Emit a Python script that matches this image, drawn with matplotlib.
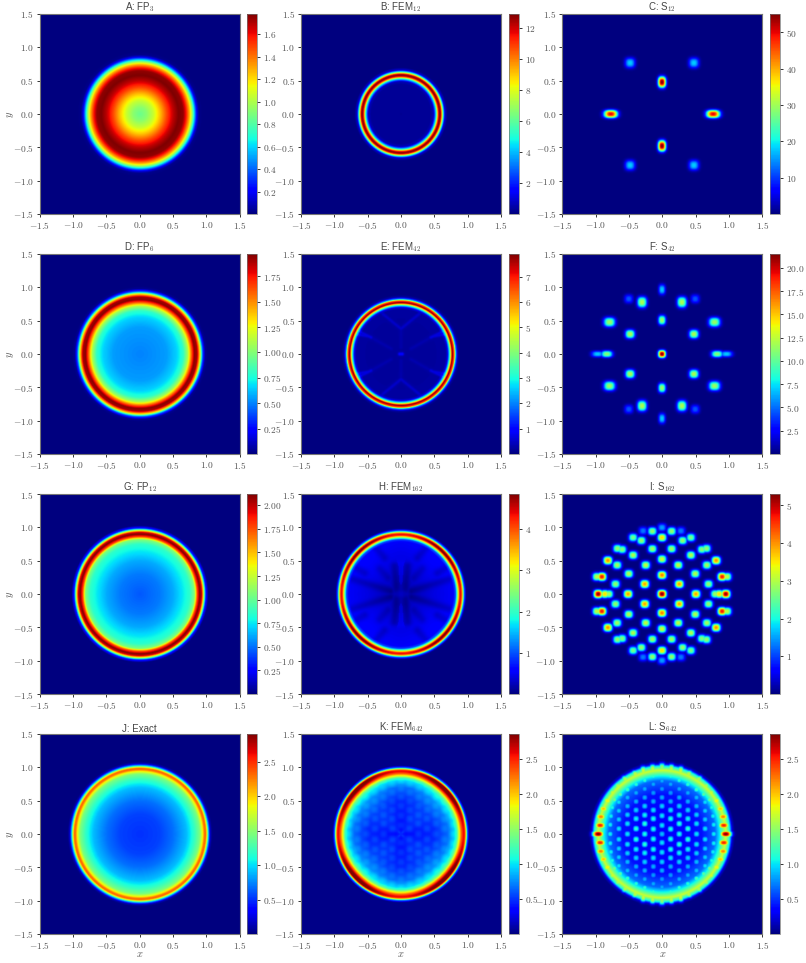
import numpy as np
import matplotlib
matplotlib.use('Agg')
import matplotlib.pyplot as plt

plt.rcParams['mathtext.fontset'] = 'cm'
plt.rcParams['font.family'] = ['Liberation Sans', 'DejaVu Sans']

TITLES = ['A: FP$_3$', 'B: FEM$_{12}$', 'C: S$_{12}$',
          'D: FP$_6$', 'E: FEM$_{42}$', 'F: S$_{42}$',
          'G: FP$_{12}$', 'H: FEM$_{162}$', 'I: S$_{162}$',
          'J: Exact', 'K: FEM$_{642}$', 'L: S$_{642}$']
VMAX = [1.78, 12.9, 55, 1.97, 7.9, 21.5, 2.12, 4.85, 5.3, 2.9, 2.85, 2.85]
CBAR_TICKS = [[0.2, 0.4, 0.6, 0.8, 1.0, 1.2, 1.4, 1.6],
              [2, 4, 6, 8, 10, 12],
              [10, 20, 30, 40, 50],
              [0.25, 0.5, 0.75, 1.0, 1.25, 1.5, 1.75],
              [1, 2, 3, 4, 5, 6, 7],
              [2.5, 5.0, 7.5, 10.0, 12.5, 15.0, 17.5, 20.0],
              [0.25, 0.5, 0.75, 1.0, 1.25, 1.5, 1.75, 2.0],
              [1, 2, 3, 4],
              [1, 2, 3, 4, 5],
              [0.5, 1.0, 1.5, 2.0, 2.5],
              [0.5, 1.0, 1.5, 2.0, 2.5],
              [0.5, 1.0, 1.5, 2.0, 2.5]]
CBAR_FMT = ['%.1f', '%d', '%d', '%.2f', '%d', '%.1f', '%.2f', '%d', '%d', '%.1f', '%.1f', '%.1f']
AXIS_TICKS = [-1.5, -1.0, -0.5, 0.0, 0.5, 1.0, 1.5]

# radial profiles (radius, value)
A_R = [0, 0.1, 0.2, 0.3, 0.4, 0.5, 0.58, 0.65, 0.7, 0.75, 0.79, 0.83, 0.86, 0.89, 0.95]
A_V = [0.85, 0.92, 1.05, 1.25, 1.48, 1.68, 1.78, 1.75, 1.55, 1.25, 0.9, 0.45, 0.15, 0.02, 0]
B_R = [0, 0.45, 0.49, 0.53, 0.56, 0.58, 0.6, 0.63, 0.66, 0.7]
B_V = [0.25, 0.3, 0.7, 5, 11, 12.9, 12, 6, 1, 0]
D_R = [0, 0.4, 0.55, 0.65, 0.72, 0.77, 0.82, 0.86, 0.9, 0.94, 0.98, 1.02]
D_V = [0.5, 0.55, 0.65, 0.8, 1.1, 1.55, 1.95, 1.9, 1.35, 0.45, 0.04, 0]
E_R = [0, 0.67, 0.7, 0.735, 0.77, 0.8, 0.825, 0.855, 0.89]
E_V = [0.2, 0.22, 0.7, 3.4, 7.9, 6.5, 2.2, 0.3, 0]
G_R = [0, 0.3, 0.5, 0.65, 0.75, 0.82, 0.86, 0.9, 0.93, 0.96, 0.99, 1.03]
G_V = [0.45, 0.52, 0.62, 0.76, 0.86, 1.08, 1.75, 2.12, 1.95, 1.2, 0.35, 0]
H_R = [0, 0.15, 0.5, 0.78, 0.82, 0.85, 0.88, 0.9, 0.92, 0.95, 0.98, 1.0]
H_V = [0.3, 0.27, 0.45, 0.55, 1.0, 2.6, 4.4, 4.7, 3.9, 1.3, 0.1, 0]
J_R = [0, 0.3, 0.5, 0.7, 0.82, 0.9, 0.94, 0.97, 0.99, 1.01, 1.03, 1.06, 1.09]
J_V = [0.5, 0.55, 0.68, 0.9, 1.2, 1.45, 1.85, 2.3, 2.3, 1.7, 0.9, 0.15, 0]
K_R = [0, 0.5, 0.7, 0.8, 0.84, 0.88, 0.91, 0.94, 0.96, 0.98, 1.0, 1.03]
K_V = [0.4, 0.5, 0.7, 1.0, 1.3, 2.0, 2.5, 2.8, 2.7, 1.9, 0.7, 0.03]
L_BASE_R = [0, 0.6, 0.8, 0.88, 0.96, 1.02, 1.06, 1.1]
L_BASE_V = [0.3, 0.4, 0.65, 1.1, 1.7, 1.05, 0.2, 0]

# bright spots, one quadrant each, mirrored when drawn
C_X = [0.0, 0.77, 0.48]
C_Y = [0.48, 0.0, 0.77]
C_V = [55, 50, 18]
C_SX = [0.058, 0.1, 0.075]
C_SY = [0.08, 0.058, 0.075]

F_X = [0.0, 0.0, 0.0, 0.3, 0.5, 0.48, 0.79, 0.83, 0.97]
F_Y = [0.0, 0.51, 0.97, 0.78, 0.83, 0.3, 0.48, 0.0, 0.0]
F_V = [21.5, 11.5, 7, 12, 4.5, 12, 11.5, 11, 7]
F_SX = [0.055, 0.055, 0.05, 0.07, 0.065, 0.07, 0.085, 0.085, 0.09]
F_SY = [0.055, 0.07, 0.075, 0.08, 0.065, 0.065, 0.07, 0.05, 0.045]

I_X = [0.0, 0.0, 0.0, 0.0, 0.0, 0.145, 0.285, 0.435, 0.31, 0.67, 0.6, 0.435, 0.145, 0.815,
       0.675, 0.245, 0.5, 0.26, 0.7, 0.905, 0.98, 0.51, 0.96, 0.86, 0.8]
I_Y = [0.0, 0.285, 0.525, 0.85, 1.0, 0.945, 0.95, 0.85, 0.805, 0.685, 0.67, 0.585, 0.68, 0.505,
       0.435, 0.435, 0.305, 0.15, 0.15, 0.26, 0.26, 0.0, 0.0, 0.0, 0.0]
I_V = [5.3, 4.1, 3.2, 3.6, 1.5, 2.8, 1.3, 2.6, 2.8, 2.8, 2.7, 3.0, 2.9, 4.0,
       2.9, 3.1, 3.0, 3.9, 2.8, 4.7, 3.1, 3.9, 5.2, 3.6, 2.9]

L_X = [0.0, 0.0, 0.0, 0.0, 0.0, 0.0, 0.0, 0.0,
       0.13, 0.13, 0.13, 0.13, 0.13, 0.13, 0.13,
       0.26, 0.26, 0.26, 0.26, 0.26, 0.26, 0.26,
       0.39, 0.39, 0.39, 0.39, 0.39, 0.39,
       0.52, 0.52, 0.52, 0.52, 0.52, 0.52,
       0.65, 0.65, 0.65, 0.65, 0.63,
       0.78, 0.78, 0.77, 0.75, 0.72,
       0.96, 0.93, 0.92, 0.88, 0.82, 0.74, 0.66, 0.55, 0.4, 0.28, 0.14, 0.0]
L_Y = [0.0, 0.13, 0.275, 0.42, 0.55, 0.68, 0.8, 0.9,
       0.075, 0.23, 0.36, 0.49, 0.62, 0.75, 0.87,
       0.0, 0.155, 0.285, 0.42, 0.55, 0.68, 0.81,
       0.08, 0.23, 0.36, 0.49, 0.62, 0.75,
       0.0, 0.155, 0.29, 0.42, 0.55, 0.67,
       0.08, 0.22, 0.35, 0.48, 0.6,
       0.0, 0.14, 0.27, 0.4, 0.52,
       0.0, 0.13, 0.26, 0.38, 0.5, 0.62, 0.72, 0.82, 0.9, 0.95, 0.98, 1.0]
L_V = [0.9, 1.0, 1.0, 0.95, 0.85, 0.8, 0.85, 1.15,
       1.1, 1.1, 1.0, 0.85, 0.8, 0.85, 1.15,
       1.1, 1.15, 1.05, 0.95, 0.85, 0.85, 1.15,
       1.15, 1.05, 0.95, 0.85, 0.85, 1.15,
       1.0, 1.0, 0.95, 0.9, 0.9, 1.2,
       1.0, 0.95, 0.95, 1.0, 1.3,
       1.05, 1.05, 1.05, 1.1, 1.4,
       2.85, 2.5, 2.2, 2.0, 1.85, 1.7, 1.6, 1.6, 1.65, 1.7, 1.65, 1.5]
L_SX = [0.05] * 44 + [0.085, 0.08, 0.075, 0.07, 0.065, 0.06, 0.06, 0.06, 0.06, 0.05, 0.05, 0.05]
L_SY = [0.05] * 44 + [0.05, 0.05, 0.05, 0.05, 0.055, 0.06, 0.06, 0.06, 0.06, 0.07, 0.07, 0.07]

# faint streaks inside the FEM rings (x0, y0, x1, y1, change in value)
E_SEG_X0 = [0.0, 0.0, 0.45, 0.15, 0.5, 0.0]
E_SEG_Y0 = [0.38, 0.1, 0.25, 0.08, 0.27, 0.0]
E_SEG_X1 = [0.27, 0.0, 0.7, 0.45, 0.68, 0.02]
E_SEG_Y1 = [0.6, 0.38, 0.37, 0.25, 0.3, 0.0]
E_SEG_V = [0.3, 0.1, 0.45, 0.12, 0.45, 0.8]

H_SEG_X0 = [0.07, 0.16, 0.25, 0.55, 0.2, 0.02]
H_SEG_Y0 = [0.08, 0.05, 0.55, 0.32, 0.25, 0.18]
H_SEG_X1 = [0.1, 0.72, 0.4, 0.72, 0.32, 0.02]
H_SEG_Y1 = [0.42, 0.22, 0.72, 0.42, 0.38, 0.45]
H_SEG_V = [-0.2, -0.2, -0.18, -0.18, -0.15, 0.08]

# ring gets stronger along the diagonals in the finer FEM panels
H_DIAG = 0.06
K_DIAG = 0.08

grid = np.linspace(-1.5, 1.5, 301)
XX, YY = np.meshgrid(grid, grid)
RR = np.hypot(XX, YY)
THETA = np.arctan2(YY, XX)


def spots(xs, ys, vs, sx=0.045, sy=0.045, p=2.6):
    sx = np.broadcast_to(sx, (len(xs),))
    sy = np.broadcast_to(sy, (len(xs),))
    out = np.zeros_like(XX)
    for i in range(len(xs)):
        for mx in (1, -1):
            for my in (1, -1):
                d = np.abs((XX - mx * xs[i]) / sx[i]) ** p + np.abs((YY - my * ys[i]) / sy[i]) ** p
                out = np.maximum(out, vs[i] * np.exp(-d))
    return out


def streaks(x0, y0, x1, y1, vs, width=0.03):
    out = np.zeros_like(XX)
    for i in range(len(x0)):
        dx, dy = x1[i] - x0[i], y1[i] - y0[i]
        for mx in (1, -1):
            for my in (1, -1):
                px, py = mx * XX - x0[i], my * YY - y0[i]
                t = np.clip((px * dx + py * dy) / (dx * dx + dy * dy), 0, 1)
                d2 = (px - t * dx) ** 2 + (py - t * dy) ** 2
                g = vs[i] * np.exp(-d2 / width ** 2)
                out = np.where(np.abs(g) > np.abs(out), g, out)
    return out


def ring(rs, vs, diag=0.0):
    return np.interp(RR, rs, vs) * (1 - diag * np.cos(4 * THETA))


lattice = spots(L_X, L_Y, L_V, L_SX, L_SY)
inside = np.interp(RR, [0, 0.8, 0.9], [1, 1, 0])

fields = [
    ring(A_R, A_V),
    ring(B_R, B_V),
    spots(C_X, C_Y, C_V, C_SX, C_SY),
    ring(D_R, D_V),
    ring(E_R, E_V) + streaks(E_SEG_X0, E_SEG_Y0, E_SEG_X1, E_SEG_Y1, E_SEG_V, 0.025) * (RR < 0.72),
    spots(F_X, F_Y, F_V, F_SX, F_SY),
    ring(G_R, G_V),
    ring(H_R, H_V, H_DIAG) + streaks(H_SEG_X0, H_SEG_Y0, H_SEG_X1, H_SEG_Y1, H_SEG_V, 0.06) * (RR < 0.8),
    spots(I_X, I_Y, I_V, 0.065, 0.06),
    ring(J_R, J_V),
    ring(K_R, K_V, K_DIAG) + 0.08 * lattice * inside,
    np.maximum(ring(L_BASE_R, L_BASE_V), lattice),
]

fig = plt.figure(figsize=(8.06, 9.63), dpi=100)
W, H = 806.0, 963.0
AX_LEFT = [39.7, 301.0, 562.3]
CB_LEFT = [247.0, 508.7, 770.0]
ROW_TOP = [14.0, 254.0, 494.0, 734.0]

for i in range(12):
    row, col = i // 3, i % 3
    bottom = 1 - (ROW_TOP[row] + 200) / H
    ax = fig.add_axes([AX_LEFT[col] / W, bottom, 200 / W, 200 / H])
    im = ax.imshow(fields[i], extent=[-1.5, 1.5, -1.5, 1.5], origin='lower', cmap='jet',
                   vmin=0, vmax=VMAX[i], interpolation='bilinear', aspect='auto')
    ax.set_xticks(AXIS_TICKS)
    ax.set_yticks(AXIS_TICKS)
    ax.set_xticklabels(['$%.1f$' % t for t in AXIS_TICKS])
    ax.set_yticklabels(['$%.1f$' % t for t in AXIS_TICKS])
    ax.tick_params(length=2.5, width=0.7, pad=1.8, labelsize=6.8, color='#333333', labelcolor='#555555')
    for s in ax.spines.values():
        s.set_color('#777777')
        s.set_linewidth(0.8)
    ax.set_title(TITLES[i], fontsize=7, pad=1, color='#444444')
    if col == 0:
        ax.set_ylabel('$y$', fontsize=7.5, color='#555555', va='center')
        ax.yaxis.set_label_coords(-0.146, 0.5)
    if row == 3:
        ax.set_xlabel('$x$', fontsize=7.5, color='#555555', va='center')
        ax.xaxis.set_label_coords(0.5, -0.1)

    cax = fig.add_axes([CB_LEFT[col] / W, bottom, 10.3 / W, 200 / H])
    cb = fig.colorbar(im, cax=cax)
    cb.set_ticks(CBAR_TICKS[i])
    cb.set_ticklabels(['$' + CBAR_FMT[i] % t + '$' for t in CBAR_TICKS[i]])
    cb.ax.tick_params(length=2.5, width=0.7, pad=1.8, labelsize=6.8, color='#333333', labelcolor='#555555')
    cb.outline.set_edgecolor('#777777')
    cb.outline.set_linewidth(0.5)

fig.savefig('out.png', dpi=100)
